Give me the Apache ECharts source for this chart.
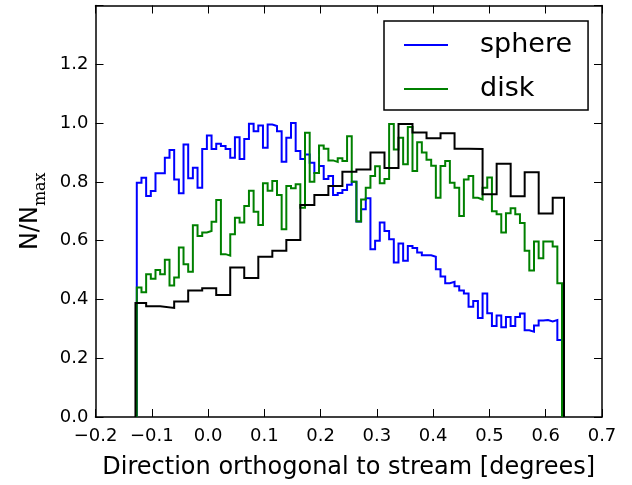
<!DOCTYPE html>
<html>
<head>
<meta charset="utf-8">
<script src="https://cdn.jsdelivr.net/npm/echarts@6/dist/echarts.min.js"></script>
<style>
  html, body { margin: 0; padding: 0; background: #fff; }
  #chart { width: 632px; height: 485px; }
</style>
</head>
<body>
<div id="chart"></div>
<script>
// Fine-binned histograms share one bin grid
const fineStart = -0.12662;
const fineWidth = 0.008303;

// sphere: N/Nmax per fine bin
const sphere = [
  0.797, 0.814, 0.752, 0.769, 0.829, 0.829, 0.882, 0.908, 0.808, 0.761,
  0.927, 0.812, 0.848, 0.780, 0.912, 0.958, 0.912, 0.930, 0.922, 0.912,
  0.882, 0.952, 0.878, 0.946, 0.998, 0.972, 0.992, 0.916, 0.995, 0.990,
  0.972, 0.868, 0.950, 1.000, 0.905, 0.878, 0.893, 0.865, 0.830, 0.854,
  0.810, 0.820, 0.755, 0.762, 0.772, 0.790, 0.800, 0.665, 0.707, 0.744,
  0.571, 0.600, 0.662, 0.633, 0.605, 0.526, 0.590, 0.532, 0.582, 0.575,
  0.560, 0.550, 0.550, 0.545, 0.503, 0.478, 0.455, 0.460, 0.445, 0.430,
  0.420, 0.375, 0.395, 0.337, 0.420, 0.353, 0.310, 0.345, 0.305, 0.340,
  0.310, 0.340, 0.352, 0.295, 0.290, 0.311, 0.328, 0.330, 0.325, 0.330,
  0.262
];

// disk: N/Nmax per fine bin
const disk = [
  0.441, 0.424, 0.486, 0.470, 0.500, 0.486, 0.535, 0.447, 0.475, 0.577,
  0.520, 0.494, 0.652, 0.616, 0.628, 0.633, 0.664, 0.738, 0.554, 0.549,
  0.622, 0.678, 0.662, 0.718, 0.770, 0.698, 0.653, 0.795, 0.770, 0.803,
  0.755, 0.639, 0.786, 0.778, 0.792, 0.712, 0.967, 0.800, 0.830, 0.924,
  0.913, 0.873, 0.868, 0.880, 0.871, 0.955, 0.800, 0.665, 0.740, 0.780,
  0.820, 0.853, 0.795, 0.810, 0.997, 0.910, 0.950, 0.860, 0.987, 0.837,
  0.935, 0.900, 0.875, 0.855, 0.746, 0.854, 0.871, 0.797, 0.780, 0.684,
  0.808, 0.820, 0.746, 0.740, 0.780, 0.815, 0.700, 0.690, 0.628, 0.693,
  0.710, 0.690, 0.660, 0.566, 0.498, 0.597, 0.540, 0.597, 0.597, 0.580,
  0.455
];

// coarse histogram (black): bin edges and N/Nmax per bin
const coarseEdges = [
  -0.1290, -0.1100, -0.0851, -0.0602, -0.0353, -0.0104, 0.0145, 0.0394,
  0.0643, 0.0893, 0.1142, 0.1391, 0.1640, 0.1889, 0.2138, 0.2387,
  0.2636, 0.2886, 0.3135, 0.3384, 0.3633, 0.3882, 0.4131, 0.4380,
  0.4629, 0.4878, 0.5128, 0.5377, 0.5626, 0.5875, 0.6124, 0.6325
];
const coarse = [
  0.388, 0.377, 0.371, 0.393, 0.430, 0.438, 0.415, 0.509, 0.473, 0.545,
  0.566, 0.602, 0.721, 0.755, 0.786, 0.834, 0.842, 0.900, 0.847, 0.997,
  0.968, 0.948, 0.965, 0.913, 0.912, 0.758, 0.862, 0.751, 0.833, 0.692,
  0.746
];

// axis ranges
const xRange = { min: -0.2, max: 0.7, step: 0.1 };
const yRange = { min: 0, max: 1.4, step: 0.2 };

function gridEdges(start, width, n) {
  const e = [];
  for (let i = 0; i <= n; i++) e.push(start + i * width);
  return e;
}

// outline of a step histogram, closed down to zero at both ends
function stepOutline(edges, vals) {
  const n = vals.length;
  const pts = [[edges[0], 0]];
  for (let i = 0; i < n; i++) pts.push([edges[i], vals[i]]);
  pts.push([edges[n], vals[n - 1]]);
  pts.push([edges[n], 0]);
  return pts;
}

const FONT = 'DejaVu Sans';
const fmtX = v => {
  const r = Math.round(v * 10) / 10;
  return (r < 0 ? '\u2212' : '') + Math.abs(r).toFixed(1);
};
const fmtY = v => {
  const r = Math.round(v * 10) / 10;
  return r >= 1.4 ? '' : r.toFixed(1);
};

const tickStyle = { show: true, inside: true, length: 8, lineStyle: { color: '#000', width: 1 } };
const lineAxis = { show: true, onZero: false, lineStyle: { color: '#000', width: 1.5 } };

const chart = echarts.init(document.getElementById('chart'), null, { renderer: 'canvas' });

function histSeries(name, color, data) {
  return {
    name: name,
    type: 'line',
    step: 'end',
    data: data,
    symbol: 'none',
    showSymbol: false,
    clip: true,
    lineStyle: { color: color, width: 2, join: 'miter' },
    itemStyle: { color: color },
    emphasis: { disabled: true },
    animation: false
  };
}

chart.setOption({
  animation: false,
  backgroundColor: '#fff',
  grid: { left: 95.5, right: 30, top: 5.5, bottom: 66.5, containLabel: false },
  legend: {
    data: ['sphere', 'disk'],
    orient: 'vertical',
    left: 384,
    top: 21,
    backgroundColor: '#fff',
    borderColor: '#000',
    borderWidth: 1.5,
    borderRadius: 0,
    padding: [9, 16, 6, 20],
    itemGap: 14,
    itemWidth: 44,
    itemHeight: 2,
    icon: 'rect',
    textStyle: { fontFamily: FONT, fontSize: 27, color: '#000', lineHeight: 30, padding: [0, 0, 0, 27] },
    selectedMode: false
  },
  xAxis: [
    {
      type: 'value',
      position: 'bottom',
      min: xRange.min, max: xRange.max, interval: xRange.step,
      axisLine: lineAxis,
      axisTick: tickStyle,
      splitLine: { show: false },
      axisLabel: { formatter: fmtX, fontFamily: FONT, fontSize: 18, color: '#000', margin: 10 },
      name: 'Direction orthogonal to stream [degrees]',
      nameLocation: 'middle',
      nameGap: 39,
      nameTextStyle: { fontFamily: FONT, fontSize: 24, color: '#000' }
    },
    {
      type: 'value',
      position: 'top',
      min: xRange.min, max: xRange.max, interval: xRange.step,
      axisLine: lineAxis,
      axisTick: tickStyle,
      splitLine: { show: false },
      axisLabel: { show: false }
    }
  ],
  yAxis: [
    {
      type: 'value',
      position: 'left',
      min: yRange.min, max: yRange.max, interval: yRange.step,
      axisLine: lineAxis,
      axisTick: tickStyle,
      splitLine: { show: false },
      axisLabel: { formatter: fmtY, fontFamily: FONT, fontSize: 18, color: '#000', margin: 7 },
      name: '{n|N/N}{s|max}',
      nameLocation: 'middle',
      nameRotate: 90,
      nameGap: 52,
      nameTextStyle: {
        rich: {
          n: { fontFamily: FONT, fontSize: 24, color: '#000' },
          s: { fontFamily: 'DejaVu Serif', fontSize: 16, color: '#000', verticalAlign: 'bottom', padding: [0, 0, -6, 0] }
        }
      }
    },
    {
      type: 'value',
      position: 'right',
      min: yRange.min, max: yRange.max, interval: yRange.step,
      axisLine: lineAxis,
      axisTick: tickStyle,
      splitLine: { show: false },
      axisLabel: { show: false }
    }
  ],
  series: [
    histSeries('sphere', '#0000ff', stepOutline(gridEdges(fineStart, fineWidth, sphere.length), sphere)),
    histSeries('disk', '#008000', stepOutline(gridEdges(fineStart, fineWidth, disk.length), disk)),
    histSeries('all', '#000000', stepOutline(coarseEdges, coarse))
  ]
});
</script>
</body>
</html>
